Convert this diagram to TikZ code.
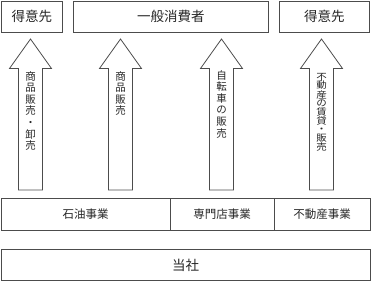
\documentclass[tikz,border=0pt]{standalone}
\usepackage{fontspec}
\setmainfont{Noto Sans CJK JP}
\tikzset{
  frame/.style={draw=black!70, line width=0.8pt},
  boxtext/.style={font=\fontsize{13.5}{15}\selectfont, text=black!85},
  bizt/.style={font=\fontsize{11.5}{13}\selectfont, text=black!85},
  vtext/.style={font=\fontsize{10.5}{11.6}\selectfont, text=black!85, align=center, inner sep=0pt, anchor=north},
}
\newcommand{\uparr}[1]{%
  \draw[frame, line join=miter] (#1-12,190) -- (#1-12,68.5) -- (#1-21,68.5) -- (#1,39) -- (#1+21,68.5) -- (#1+12,68.5) -- (#1+12,190) -- cycle;}
\begin{document}
\begin{tikzpicture}[x=1pt,y=-1pt]
\useasboundingbox (0,0) rectangle (371,281);
% top boxes
\draw[frame] (1.5,1.5) rectangle (62,32);
\node[boxtext] (t1) at (31.75,16.5) {得意先};
\draw[frame] (73,1.5) rectangle (268.5,32);
\node[boxtext] (t2) at (170.75,16.5) {一般消費者};
\draw[frame] (279.5,1.5) rectangle (369,32);
\node[boxtext] (t3) at (324.25,16.5) {得意先};
% arrows
\uparr{30.5}
\uparr{120.5}
\uparr{221.5}
\uparr{321.5}
\node[vtext] (a1) at (30.5,71) {商\\品\\販\\売\\・\\卸\\売};
\node[vtext] (a2) at (120.5,71) {商\\品\\販\\売};
\node[vtext] (a3) at (221.5,70) {自\\転\\車\\の\\販\\売};
\node[vtext] (a4) at (321.5,73) {\scalebox{1}[0.88]{\parbox[t]{14pt}{\centering\fontsize{10.5}{9.6}\selectfont 不\\動\\産\\の\\賃\\貸\\・\\販\\売}}};
% business row
\draw[frame] (1,198.5) rectangle (370,230);
\draw[frame] (170,198.5) -- (170,230);
\draw[frame] (274,198.5) -- (274,230);
\node[bizt] (b1) at (85.5,214.5) {石油事業};
\node[bizt] (b2) at (222,214.5) {専門店事業};
\node[bizt] (b3) at (322,214.5) {不動産事業};
% company
\draw[frame] (1,249.5) rectangle (370,280);
\node[boxtext] (c) at (185.5,265) {当社};
\end{tikzpicture}
\end{document}
